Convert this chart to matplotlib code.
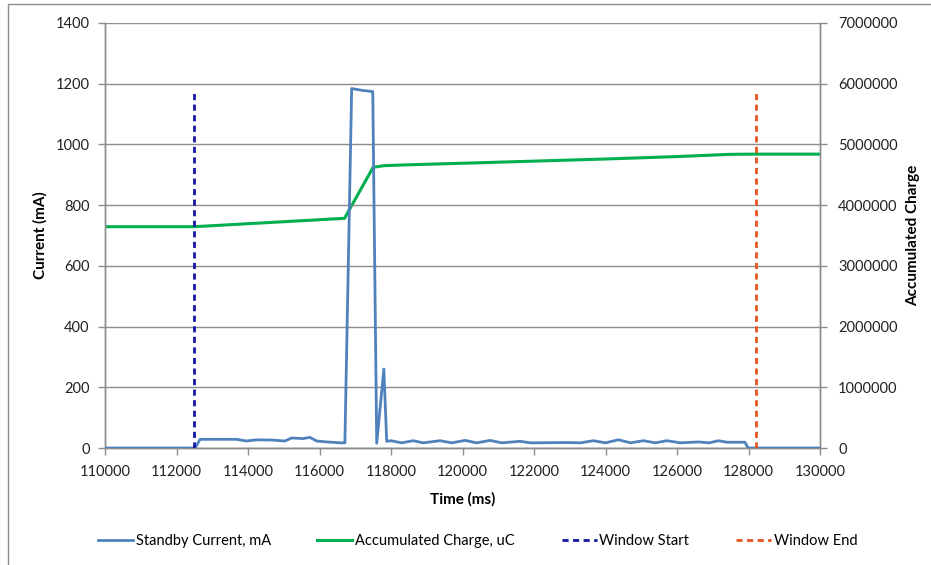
import matplotlib
matplotlib.use('Agg')
import matplotlib.pyplot as plt
from matplotlib.patches import Rectangle

plt.rcParams['font.family'] = ['Lato', 'DejaVu Sans']

# standby current trace (ms, mA)
time_ms = [110000, 112500, 112520, 112660, 113000, 113680, 113960, 114240, 114700,
           115030, 115220, 115540, 115730, 115920, 116200, 116600, 116710, 116900,
           117200, 117490, 117600, 117800, 117880, 118000, 118300, 118620, 118900,
           119370, 119700, 120070, 120400, 120770, 121100, 121610, 121900, 122870,
           123300, 123660, 124000, 124360, 124700, 125060, 125400, 125710, 126100,
           126600, 126900, 127160, 127400, 127900, 127990, 128500, 130000]
current_ma = [0, 0, 0, 28.6, 28.6, 28.6, 23, 27, 26,
              23, 33, 31, 35, 23, 20, 17, 17, 1184,
              1178, 1174, 16, 260, 22, 24, 17, 24, 17,
              24, 17, 25, 17, 25, 17, 22, 17, 18,
              17, 24, 17, 27, 17, 24, 17, 24, 17,
              20, 17, 24, 19, 19, 0, 0, 0]

# accumulated charge (ms, uC)
charge_time_ms = [110000, 112500, 116700, 117500, 117800, 118500, 120000, 122000,
                  124000, 126000, 127500, 128200, 130000]
charge_uc = [3645000, 3645000, 3783000, 4623000, 4650000, 4665000, 4690000, 4725000,
             4760000, 4800000, 4837000, 4840000, 4840000]

window_start = 112500
window_end = 128200
window_height = 1170

fig = plt.figure(figsize=(9.31, 5.65), dpi=100)
ax = fig.add_axes([105 / 931, 1 - 448 / 565, 715 / 931, 425 / 565])
ax2 = ax.twinx()

grid_c = '#8c8c8c'
ax.set_xlim(110000, 130000)
ax.set_ylim(0, 1400)
ax.set_yticks(range(0, 1401, 200))
ax.set_xticks(range(110000, 130001, 2000))
ax2.set_ylim(0, 7000000)
ax2.set_yticks(range(0, 7000001, 1000000))
ax2.set_yticklabels([str(v) for v in range(0, 7000001, 1000000)])
ax.grid(axis='y', color=grid_c, lw=1.0)
ax.set_axisbelow(True)

for a in (ax, ax2):
    for s in a.spines.values():
        s.set_color(grid_c)
        s.set_linewidth(1.0)
    a.spines['top'].set_visible(False)
    a.tick_params(colors=grid_c, labelcolor='#222222', labelsize=10.5, length=5, width=1)
ax.tick_params(axis='y', pad=6)
ax.tick_params(axis='x', pad=7)
ax2.tick_params(axis='y', pad=8)

h1, = ax.plot(time_ms, current_ma, color='#4F81BD', lw=2.0, label='Standby Current, mA', zorder=3)
h3, = ax.plot([window_start, window_start], [0, window_height], color='#1515A8', lw=2.0,
              ls=(0, (2.2, 1.6)), label='Window Start', zorder=4)
h4, = ax.plot([window_end, window_end], [0, window_height], color='#E8531E', lw=2.0,
              ls=(0, (2.2, 1.6)), label='Window End', zorder=4)
h2, = ax2.plot(charge_time_ms, charge_uc, color='#00B050', lw=2.2, label='Accumulated Charge, uC')
ax.set_zorder(ax2.get_zorder() + 1)
ax.patch.set_visible(False)

ax.set_xlabel('Time (ms)', fontsize=11, fontweight='bold', labelpad=10)
ax.set_ylabel('Current (mA)', fontsize=11, fontweight='bold', labelpad=6)
ax2.set_ylabel('Accumulated Charge', fontsize=11, fontweight='bold', labelpad=6)

fig.legend(handles=[h1, h2, h3, h4], loc='center', bbox_to_anchor=(0.513, 1 - 541 / 565),
           ncol=4, frameon=False, fontsize=10.5, handlelength=2.4, handletextpad=0.2,
           columnspacing=3.2)

# outer chart border
fig.patches.append(Rectangle((8 / 931, -0.02), 1.0, 1 - 4 / 565 + 0.02, transform=fig.transFigure,
                             fill=False, edgecolor='#8c8c8c', lw=1.0))

fig.savefig('out.png', dpi=100)
